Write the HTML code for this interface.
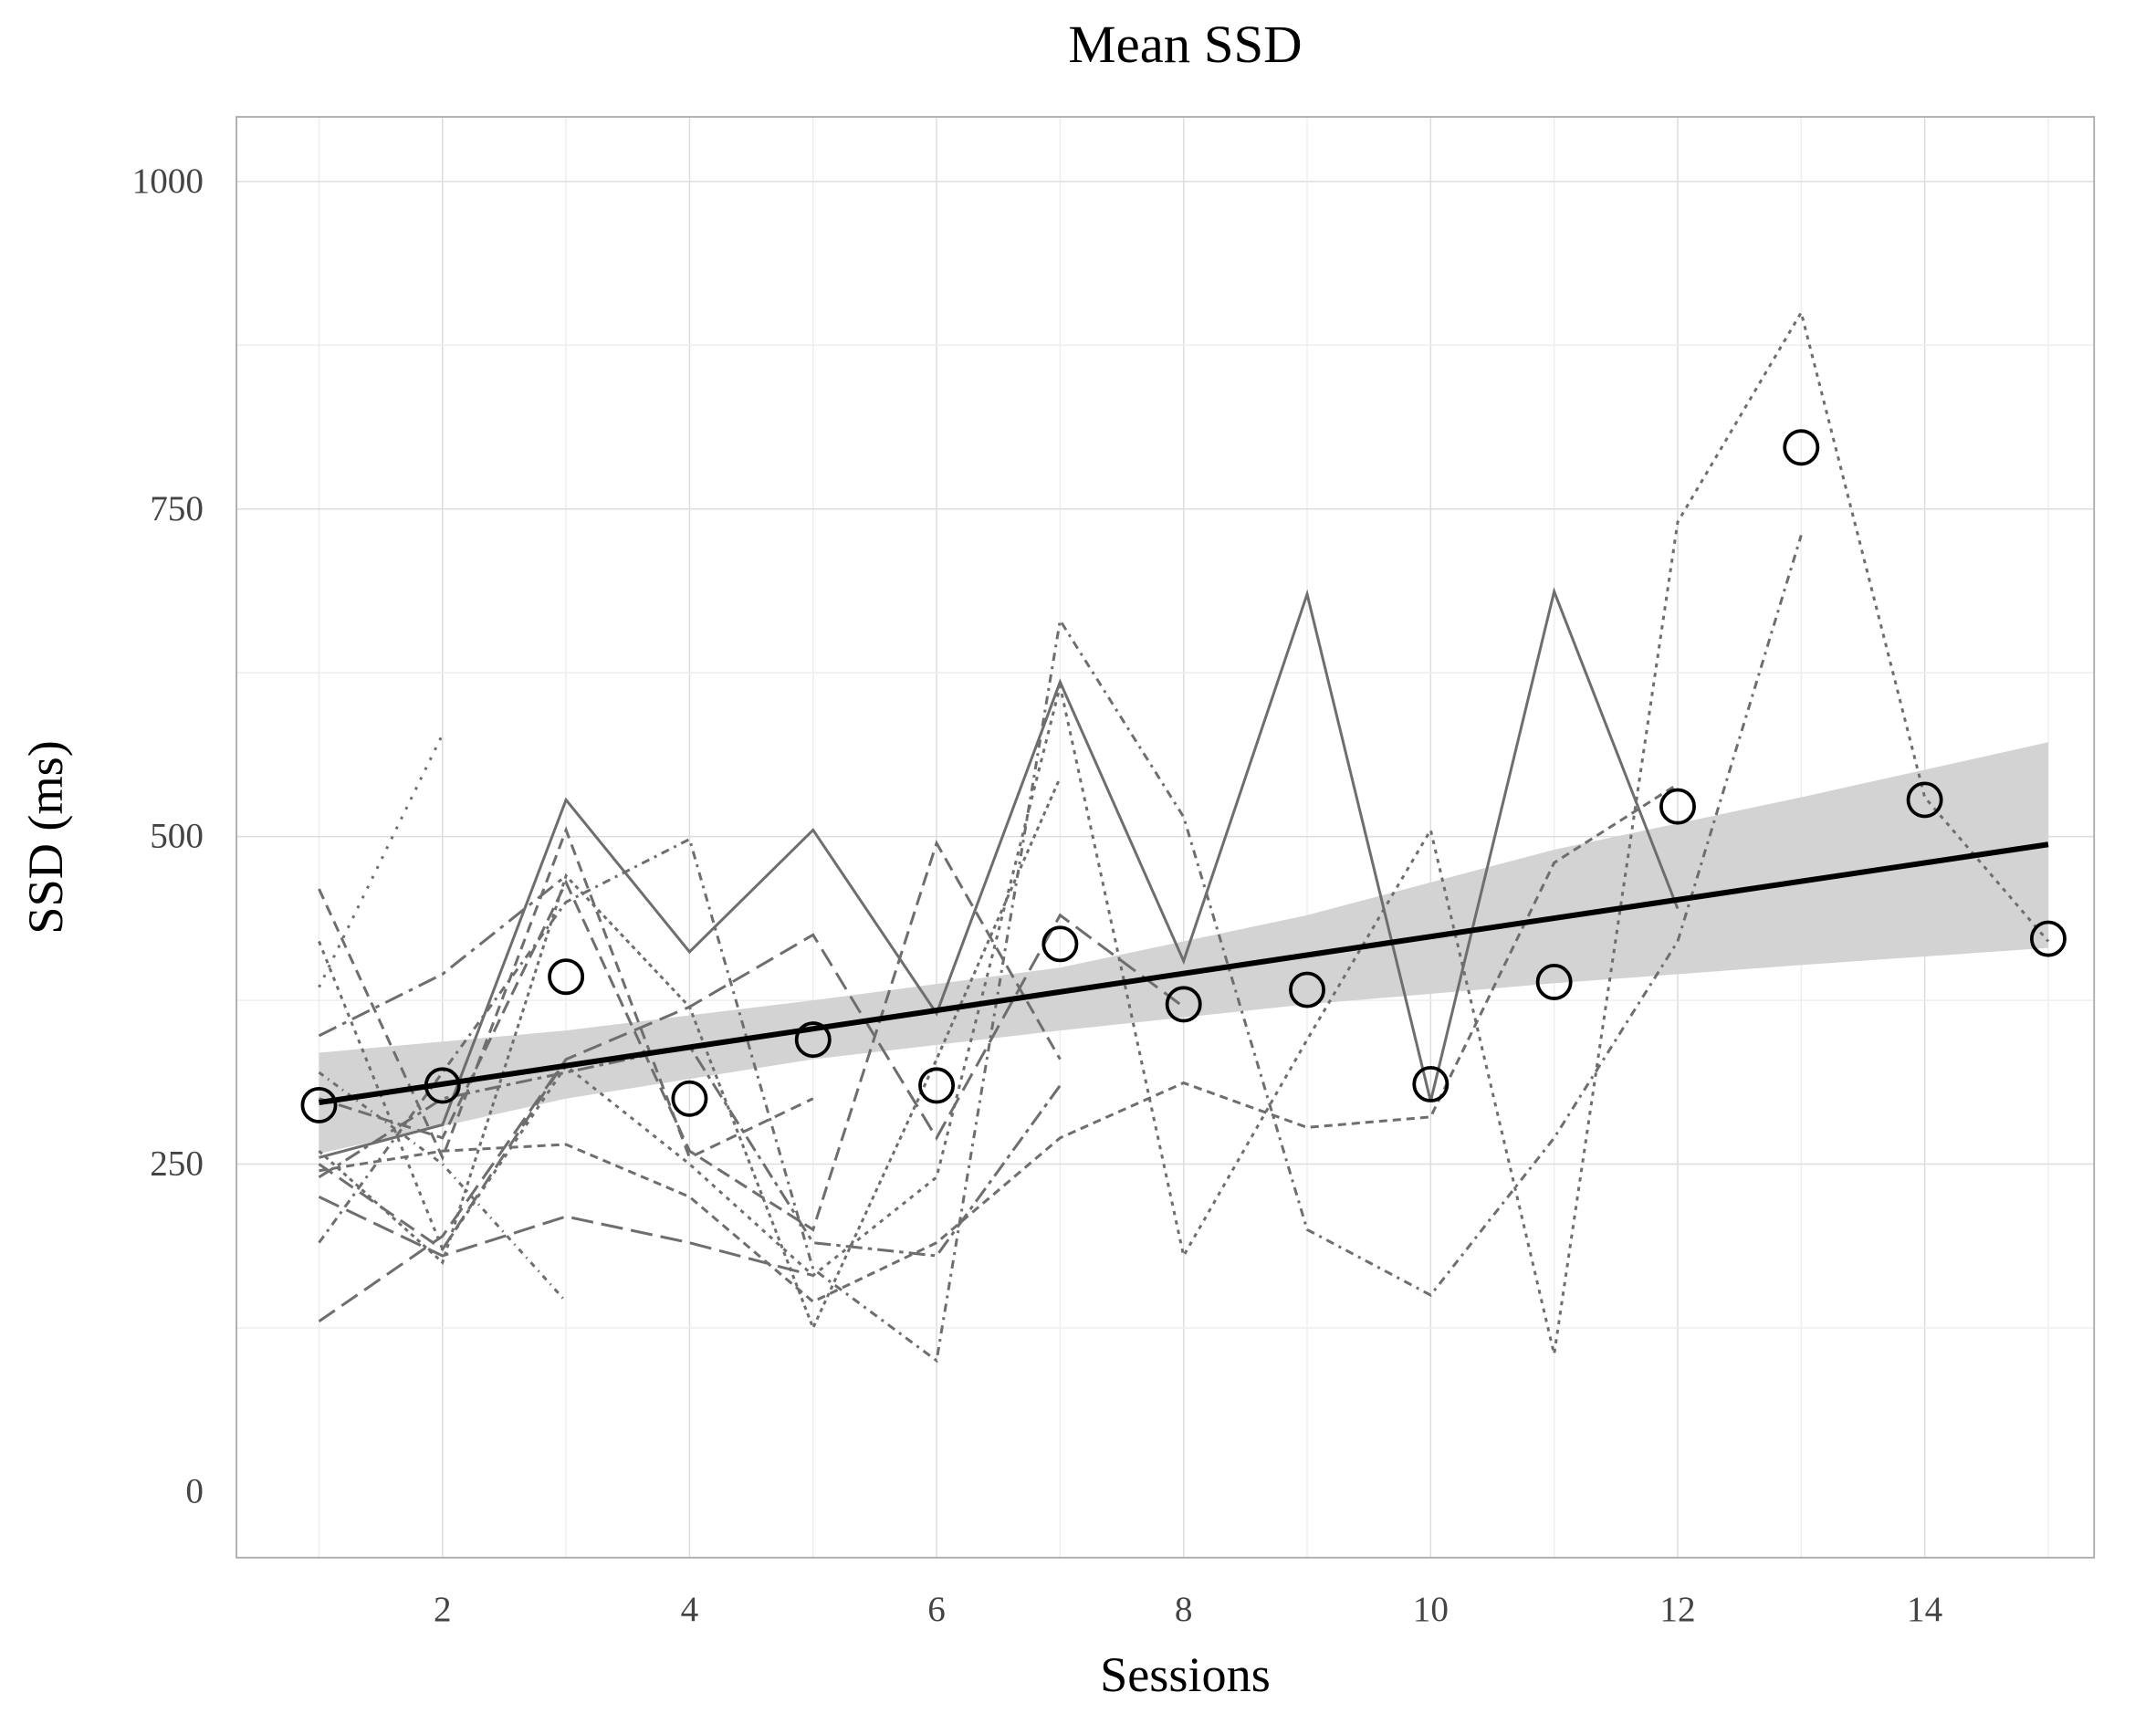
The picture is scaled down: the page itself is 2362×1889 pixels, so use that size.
<!DOCTYPE html>
<html><head><meta charset="utf-8"><style>html,body{margin:0;padding:0;background:#fff}svg{display:block}</style></head>
<body>
<svg id="chart" width="2362" height="1889" viewBox="0 0 1568 1254" xmlns="http://www.w3.org/2000/svg" font-family="'Liberation Serif', serif">
<rect x="0" y="0" width="1568" height="1254" fill="#fff"/>
<g id="grid"></g>
<g id="band"></g>
<g id="subjects"></g>
<g id="trend"></g>
<g id="means"></g>
<rect x="172" y="85" width="1351" height="1048" fill="none" stroke="#aaa" stroke-width="1.2"/>
<g id="axes"></g>
<text x="862" y="45" text-anchor="middle" font-size="39">Mean SSD</text>
<text x="862" y="1230" text-anchor="middle" font-size="36">Sessions</text>
<text transform="translate(45,609) rotate(-90)" text-anchor="middle" font-size="36">SSD (ms)</text>
</svg>
<script>
const xTicks=[2,4,6,8,10,12,14];
const yTicks=[0,250,500,750,1000];
const sessions=[1,2,3,4,5,6,7,8,9,10,11,12,13,14,15];
const meanSSD=[295,310,393,300,345,310,418,372,383,311,389,523,797,528,422];
const trendStart=[1,297];
const trendEnd=[15,494];
const bandX=[1,3,5,7,9,11,13,15];
const bandLow=[258,300,330,352,372,388,402,415];
const bandHigh=[335,352,375,400,440,490,530,572];
const subj1=[255,280,528,412,505,365,618,405,685,298,687,445];
const subj2=[250,185,330,null,null,null,null,null,null,null,null,null];
const subj3=[348,395,470,null,null,null,null,null,null,null,null,null];
const subj4=[460,255,505,255,300,null,null,null,null,null,null,null];
const subj5=[190,320,450,498,170,100,665,515,200,150,270,420,730];
const subj6=[130,195,330,370,425,270,440,370,null,null,null,null,null];
const subj7=[245,260,265,225,145,190,270,312,278,286,480,540];
const subj8=[420,185,325,250,165,240,615,180,345,505,105,740,900,530,420];
const subj9=[225,180,210,190,165,null,null,null,null,null,null,null];
const subj10=[385,578,null,null,null,null,null,null,null,null,null,null];
const subj11=[300,270,465,260,200,495,330,null,null,null,null,null];
const subj12=[240,300,320,340,190,180,310,null,null,null,null,null];
const subj13=[320,250,145,null,null,null,null,null,null,null,null,null];
const subj14=[260,175,470,370,125,330,545,null,null,null,null,null];
const series=[subj1,subj2,subj3,subj4,subj5,subj6,subj7,subj8,subj9,subj10,subj11,subj12,subj13,subj14];
const dashes=["","12,6","14,5,3,5","8,5","6,4,2,4","14,6","6,4","3,4","16,6","2,6","10,5","12,4,3,4","4,4,1,4","3,3"];
const X=v=>232+(v-1)*89.83;
const Y=v=>1085-v*0.953;
const NS="http://www.w3.org/2000/svg";
function mk(t,a,p){const e=document.createElementNS(NS,t);for(const k in a)e.setAttribute(k,a[k]);p.appendChild(e);return e;}
const grid=document.getElementById('grid'),axes=document.getElementById('axes');
for(let v=1;v<=15;v++){const l=mk('line',{x1:X(v),x2:X(v),y1:85,y2:1133,stroke:v%2?'#eee':'#ddd','stroke-width':1},grid);

}
for(let v=125;v<=1000;v+=125){const l=mk('line',{x1:172,x2:1523,y1:Y(v),y2:Y(v),stroke:v%250?'#eee':'#ddd','stroke-width':1},grid);

}
xTicks.forEach(t=>{const e=mk('text',{x:X(t),y:1179,'text-anchor':'middle','font-size':26,fill:'#444'},axes);e.textContent=t;

});
yTicks.forEach(t=>{const e=mk('text',{x:148,y:Y(t)+8,'text-anchor':'end','font-size':26,fill:'#444'},axes);e.textContent=t;

});
let d='';bandX.forEach((x,i)=>d+=(i?'L':'M')+X(x)+','+Y(bandHigh[i]));
for(let i=bandX.length-1;i>=0;i--)d+='L'+X(bandX[i])+','+Y(bandLow[i]);
const b=mk('path',{d:d+'Z',fill:'#d3d3d3'},document.getElementById('band'));


const sg=document.getElementById('subjects');
series.forEach((s,k)=>{let p='',pen=false;s.forEach((v,i)=>{if(v==null){pen=false;return;}p+=(pen?'L':'M')+X(sessions[i])+','+Y(v);pen=true;});
const e=mk('path',{d:p,fill:'none',stroke:'#6e6e6e','stroke-width':2,'stroke-dasharray':dashes[k]},sg);

});
const t=mk('line',{x1:X(trendStart[0]),y1:Y(trendStart[1]),x2:X(trendEnd[0]),y2:Y(trendEnd[1]),stroke:'#000','stroke-width':4},document.getElementById('trend'));


const mg=document.getElementById('means');
meanSSD.forEach((v,i)=>{const c=mk('circle',{cx:X(sessions[i]),cy:Y(v),r:12,fill:'none',stroke:'#000','stroke-width':2.5},mg);

});
</script>
</body></html>
